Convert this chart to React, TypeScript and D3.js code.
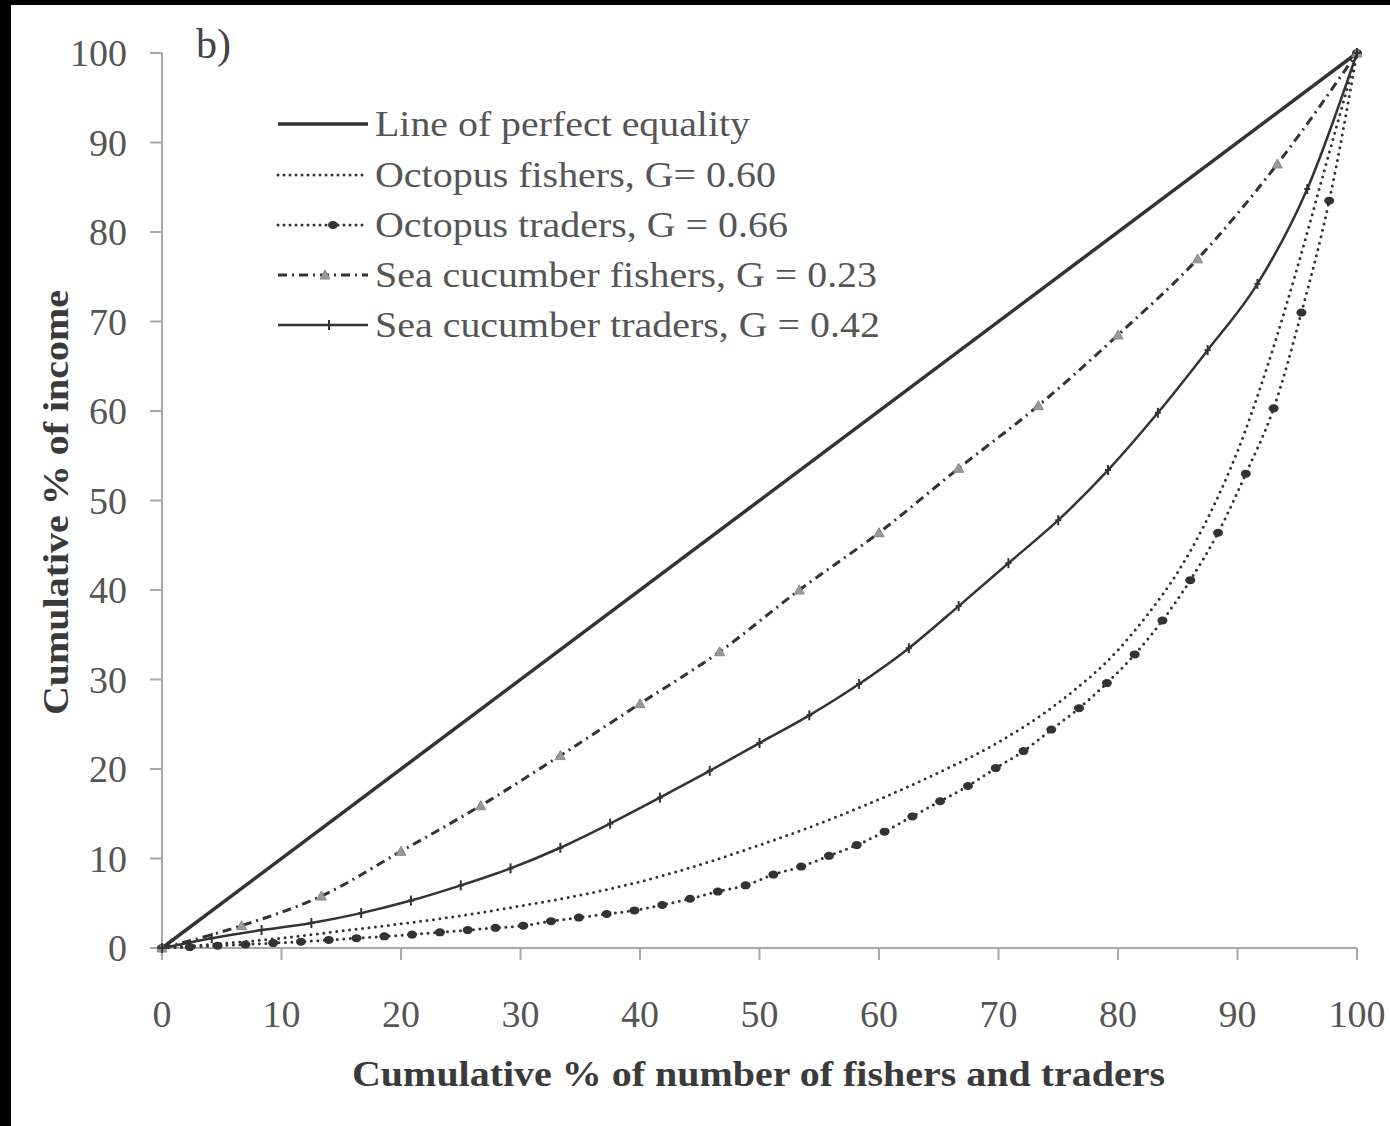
import React from 'react';
import * as d3 from 'd3';

// cumulative % of people (x) and of income (y)
const equalityX = [0, 100];
const equalityY = [0, 100];

const octoFishX = [0, 5, 10, 15, 20, 25, 30, 35, 40, 45, 50, 55, 60, 65, 70, 75, 80, 82.5, 85, 87.5, 90, 92.5, 95, 97.5, 100];
const octoFishY = [0, 0.5, 1.1, 1.9, 2.7, 3.6, 4.7, 5.9, 7.4, 9.3, 11.5, 13.9, 16.6, 19.6, 23.0, 27.4, 33.3, 37.3, 42.0, 48.0, 55.5, 65.0, 76.0, 88.0, 100];

const octoTradeN = 43;
const octoTradeY = [0, 0.1, 0.25, 0.4, 0.55, 0.7, 0.9, 1.1, 1.3, 1.5, 1.75, 2.0, 2.25, 2.5, 3.0, 3.4, 3.8, 4.2, 4.8, 5.5,
  6.3, 7.0, 8.2, 9.1, 10.3, 11.5, 13.0, 14.7, 16.4, 18.1, 20.1, 22.0, 24.4, 26.8, 29.6, 32.8, 36.6, 41.1, 46.4, 53.0,
  60.3, 71.0, 83.5, 100];

const seaFishN = 15;
const seaFishY = [0, 2.5, 5.8, 10.8, 15.9, 21.5, 27.3, 33.1, 40.0, 46.4, 53.6, 60.6, 68.5, 77.0, 87.6, 100];

const seaTradeN = 24;
const seaTradeY = [0, 1.1, 2.0, 2.8, 3.9, 5.3, 7.0, 8.9, 11.2, 13.9, 16.8, 19.8, 22.9, 26.0, 29.5, 33.5, 38.2, 43.0,
  47.8, 53.4, 59.8, 66.8, 74.2, 84.8, 100];

const xTicks = [0, 10, 20, 30, 40, 50, 60, 70, 80, 90, 100];
const yTicks = [0, 10, 20, 30, 40, 50, 60, 70, 80, 90, 100];

const legendLabels = [
  'Line of perfect equality',
  'Octopus fishers, G= 0.60',
  'Octopus traders, G = 0.66',
  'Sea cucumber fishers, G = 0.23',
  'Sea cucumber traders, G = 0.42',
];
const legendWidths = [375, 401, 413, 502, 505];

const W = 1390;
const H = 1126;
const ink = '#333';
const axisGray = '#a8a8a8';
const font = '"Liberation Serif", "Times New Roman", serif';

type Pt = [number, number];

const zip = (xs: number[], ys: number[]): Pt[] => xs.map((x, i) => [x, ys[i]]);
const even = (n: number, ys: number[]): Pt[] => ys.map((y, i) => [(i * 100) / n, y]);

function Triangle({ x, y }: { x: number; y: number }) {
  return <path d={`M${x},${y - 5}L${x + 5},${y + 4}L${x - 5},${y + 4}Z`} fill="#9a9a9a" stroke="#888" strokeWidth={1} />;
}

function Plus({ x, y }: { x: number; y: number }) {
  return (
    <g stroke={ink} strokeWidth={2}>
      <line x1={x} y1={y - 5} x2={x} y2={y + 5} />
      <line x1={x - 3} y1={y} x2={x + 3} y2={y} />
    </g>
  );
}

export default function App() {
  const x = d3.scaleLinear().domain([0, 100]).range([162, 1357]);
  const y = d3.scaleLinear().domain([0, 100]).range([948, 53]);

  const straight = d3.line<Pt>().x(d => x(d[0])).y(d => y(d[1]));
  const smooth = d3.line<Pt>().x(d => x(d[0])).y(d => y(d[1])).curve(d3.curveMonotoneX);

  const octoFish = zip(octoFishX, octoFishY);
  const octoTrade = even(octoTradeN, octoTradeY);
  const seaFish = even(seaFishN, seaFishY);
  const seaTrade = even(seaTradeN, seaTradeY);

  const legendX1 = 278;
  const legendX2 = 368;
  const legendRows = [124, 175, 225, 275, 325];

  return (
    <svg width={W} height={H} style={{ position: 'absolute', left: 0, top: 0 }} fontFamily={font}>
      <rect width={W} height={H} fill="#000" />
      <rect x={11} y={5} width={W - 11} height={H - 5} fill="#fff" />

      {/* axes */}
      <g stroke={axisGray} strokeWidth={2}>
        <line x1={x(0)} y1={y(0)} x2={x(0)} y2={y(100)} />
        <line x1={x(0)} y1={y(0)} x2={x(100)} y2={y(0)} />
        {yTicks.map(t => (
          <line key={'yt' + t} x1={x(0) - 12} x2={x(0)} y1={y(t)} y2={y(t)} />
        ))}
        {xTicks.map(t => (
          <line key={'xt' + t} x1={x(t)} x2={x(t)} y1={y(0)} y2={y(0) + 12} />
        ))}
      </g>
      <g fill="#555" fontSize={38}>
        {yTicks.map(t => (
          <text key={'yl' + t} x={x(0) - 35} y={y(t)} dy="0.35em" textAnchor="end">{t}</text>
        ))}
        {xTicks.map(t => (
          <text key={'xl' + t} x={x(t)} y={y(0) + 79} textAnchor="middle">{t}</text>
        ))}
      </g>

      <text x={352} y={1086} textLength={813} lengthAdjust="spacingAndGlyphs" fontWeight="bold" fontSize={36} fill="#3a3a3a">
        Cumulative % of number of fishers and traders
      </text>
      <text transform="translate(68,715) rotate(-90)" textLength={425} lengthAdjust="spacingAndGlyphs" fontWeight="bold" fontSize={36} fill="#3a3a3a">
        Cumulative % of income
      </text>
      <text x={196} y={58} fontSize={42} fill="#444">b)</text>

      {/* series */}
      <path d={straight(zip(equalityX, equalityY)) || ''} fill="none" stroke={ink} strokeWidth={3.5} />
      <path d={smooth(octoFish) || ''} fill="none" stroke={ink} strokeWidth={3} strokeDasharray="0 6.5" strokeLinecap="round" />
      <path d={smooth(octoTrade) || ''} fill="none" stroke={ink} strokeWidth={3} strokeDasharray="0 6.5" strokeLinecap="round" />
      {octoTrade.map((d, i) => (
        <ellipse key={'ot' + i} cx={x(d[0])} cy={y(d[1])} rx={5} ry={4} fill={ink} />
      ))}
      <path d={smooth(seaFish) || ''} fill="none" stroke={ink} strokeWidth={3} strokeDasharray="9 5 2 5" />
      {seaFish.map((d, i) => (
        <Triangle key={'sf' + i} x={x(d[0])} y={y(d[1])} />
      ))}
      <path d={smooth(seaTrade) || ''} fill="none" stroke={ink} strokeWidth={2.5} />
      {seaTrade.map((d, i) => (
        <Plus key={'st' + i} x={x(d[0])} y={y(d[1])} />
      ))}

      {/* legend */}
      <g>
        <line x1={legendX1} x2={legendX2} y1={legendRows[0]} y2={legendRows[0]} stroke={ink} strokeWidth={3.5} />
        <line x1={legendX1} x2={legendX2} y1={legendRows[1]} y2={legendRows[1]} stroke={ink} strokeWidth={3} strokeDasharray="0 6" strokeLinecap="round" />
        <line x1={legendX1} x2={legendX2} y1={legendRows[2]} y2={legendRows[2]} stroke={ink} strokeWidth={3} strokeDasharray="0 6" strokeLinecap="round" />
        <ellipse cx={(legendX1 + legendX2) / 2 + 10} cy={legendRows[2]} rx={5} ry={4} fill={ink} />
        <line x1={legendX1} x2={legendX2} y1={legendRows[3]} y2={legendRows[3]} stroke={ink} strokeWidth={3} strokeDasharray="9 5 2 5" />
        <Triangle x={(legendX1 + legendX2) / 2 + 2} y={legendRows[3]} />
        <line x1={legendX1} x2={legendX2} y1={legendRows[4]} y2={legendRows[4]} stroke={ink} strokeWidth={2.5} />
        <Plus x={(legendX1 + legendX2) / 2 + 6} y={legendRows[4]} />
        {legendLabels.map((t, i) => (
          <text key={t} x={375} y={legendRows[i]} dy="0.33em" textLength={legendWidths[i]} lengthAdjust="spacingAndGlyphs" fontSize={36} fill="#555">{t}</text>
        ))}
      </g>
    </svg>
  );
}
